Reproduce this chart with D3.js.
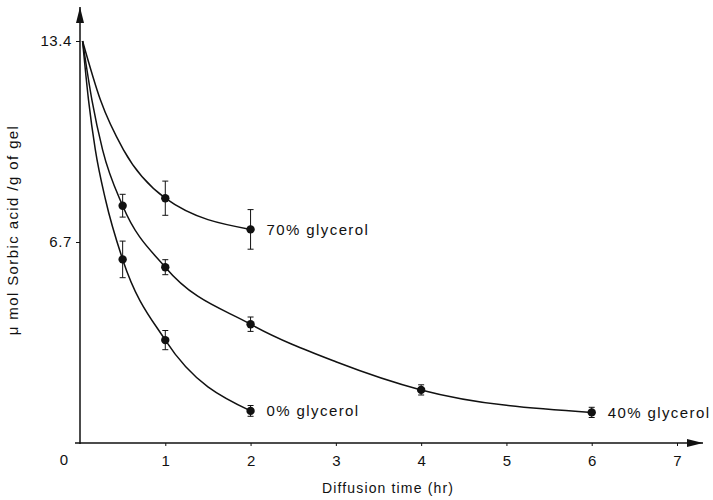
<!DOCTYPE html>
<html>
<head>
<meta charset="utf-8">
<script src="https://cdn.jsdelivr.net/npm/d3@7"></script>
<style>
  body { margin: 0; background: #fff; }
  text { font-family: "Liberation Sans", "DejaVu Sans", sans-serif; fill: #111; }
</style>
</head>
<body>
<div id="chart"></div>
<script>
// data (time in hr, µmol sorbic acid per g of gel)
var times0 = [0.5, 1, 2];
var values0 = [6.12, 3.43, 1.07];
var errors0 = [0.61, 0.32, 0.18];

var times40 = [0.5, 1, 2, 4, 6];
var values40 = [7.91, 5.86, 3.96, 1.77, 1.02];
var errors40 = [0.38, 0.25, 0.24, 0.17, 0.17];

var times70 = [1, 2];
var values70 = [8.16, 7.12];
var errors70 = [0.57, 0.66];

// points along the drawn fitted curves
var curve0 = [[0.03, 13.4], [0.10, 11.43], [0.18, 9.77], [0.3, 8.1], [0.5, 6.12], [1, 3.43], [2, 1.07]];
var curve40 = [[0.03, 13.4], [0.14, 11.43], [0.265, 9.77], [0.5, 7.91], [1, 5.86], [2, 3.96], [3, 2.71], [4, 1.77], [6, 1.02]];
var curve70 = [[0.03, 13.4], [0.24, 11.43], [0.51, 9.77], [1, 8.16], [2, 7.12]];

var seriesLabels = ["0% glycerol", "40% glycerol", "70% glycerol"];
var xTicks = [1, 2, 3, 4, 5, 6, 7];
var yTicks = [6.7, 13.4];

var svgWidth = 713;
var svgHeight = 500;
var margin = { top: 41, right: 36, bottom: 57, left: 80 };
var width = svgWidth - margin.left - margin.right;
var height = svgHeight - margin.top - margin.bottom;

var svg = d3.select("#chart").append("svg")
  .attr("width", svgWidth)
  .attr("height", svgHeight);

var chart = svg.append("g")
  .attr("transform", `translate(${margin.left}, ${margin.top})`);

var x = d3.scaleLinear().domain([0, 7]).range([0, width]);
var y = d3.scaleLinear().domain([0, 13.4]).range([height, 0]);

// axes
var xAxis = chart.append("g")
  .attr("transform", `translate(0, ${height})`)
  .call(d3.axisBottom(x).tickValues(xTicks).tickSize(3).tickFormat(d3.format("d")));
xAxis.select(".domain").remove();
xAxis.selectAll("line").attr("stroke", "#111");
xAxis.selectAll("text").attr("font-size", 15).attr("dy", "1.1em");

var yAxis = chart.append("g")
  .call(d3.axisLeft(y).tickValues(yTicks).tickSize(4).tickFormat(d3.format(".1f")));
yAxis.select(".domain").remove();
yAxis.selectAll("line").attr("stroke", "#111");
yAxis.selectAll("text").attr("font-size", 15).attr("x", -8).attr("letter-spacing", 0.6);

chart.append("text")
  .attr("x", -16).attr("y", height + 22)
  .attr("font-size", 15)
  .attr("text-anchor", "middle")
  .text("0");

// arrowheads
var defs = svg.append("defs");
defs.append("marker")
  .attr("id", "arrow")
  .attr("viewBox", "0 0 16 8")
  .attr("refX", 16).attr("refY", 4)
  .attr("markerWidth", 16).attr("markerHeight", 8)
  .attr("markerUnits", "userSpaceOnUse")
  .attr("orient", "auto")
  .append("path")
  .attr("d", "M0,0 L16,4 L0,8 Z")
  .attr("fill", "#111");

chart.append("line")
  .attr("x1", -5).attr("y1", height)
  .attr("x2", 623).attr("y2", height)
  .attr("stroke", "#111").attr("stroke-width", 1.5)
  .attr("marker-end", "url(#arrow)");

chart.append("line")
  .attr("x1", 0).attr("y1", height + 1)
  .attr("x2", 0).attr("y2", -34)
  .attr("stroke", "#111").attr("stroke-width", 1.5)
  .attr("marker-end", "url(#arrow)");

// fitted curves
var line = d3.line()
  .x(d => x(d[0]))
  .y(d => y(d[1]))
  .curve(d3.curveMonotoneX);

[curve0, curve40, curve70].forEach(function(c) {
  chart.append("path")
    .datum(c)
    .attr("d", line)
    .attr("fill", "none")
    .attr("stroke", "#111")
    .attr("stroke-width", 1.5);
});

// points with error bars
function drawPoints(times, values, errors) {
  var pts = times.map((t, i) => ({ t: t, v: values[i], e: errors[i] }));
  var g = chart.append("g");
  var bars = g.selectAll(".err").data(pts).enter().append("g");
  bars.append("line")
    .attr("x1", d => x(d.t)).attr("x2", d => x(d.t))
    .attr("y1", d => y(d.v - d.e)).attr("y2", d => y(d.v + d.e))
    .attr("stroke", "#111").attr("stroke-width", 1);
  bars.append("line")
    .attr("x1", d => x(d.t) - 3).attr("x2", d => x(d.t) + 3)
    .attr("y1", d => y(d.v + d.e)).attr("y2", d => y(d.v + d.e))
    .attr("stroke", "#111").attr("stroke-width", 1);
  bars.append("line")
    .attr("x1", d => x(d.t) - 3).attr("x2", d => x(d.t) + 3)
    .attr("y1", d => y(d.v - d.e)).attr("y2", d => y(d.v - d.e))
    .attr("stroke", "#111").attr("stroke-width", 1);
  g.selectAll("circle").data(pts).enter().append("circle")
    .attr("cx", d => x(d.t))
    .attr("cy", d => y(d.v))
    .attr("r", 4.2)
    .attr("fill", "#111");
}
drawPoints(times0, values0, errors0);
drawPoints(times40, values40, errors40);
drawPoints(times70, values70, errors70);

// series labels next to last points
var lastPoints = [
  [times0[times0.length - 1], values0[values0.length - 1]],
  [times40[times40.length - 1], values40[values40.length - 1]],
  [times70[times70.length - 1], values70[values70.length - 1]]
];
seriesLabels.forEach(function(label, i) {
  chart.append("text")
    .attr("x", x(lastPoints[i][0]) + 16)
    .attr("y", y(lastPoints[i][1]))
    .attr("dy", "0.36em")
    .attr("font-size", 15)
    .attr("letter-spacing", 1.4)
    .text(label);
});

// axis titles
svg.append("text")
  .attr("x", 388).attr("y", 493)
  .attr("text-anchor", "middle")
  .attr("font-size", 14)
  .attr("letter-spacing", 1.15)
  .text("Diffusion time (hr)");

svg.append("text")
  .attr("transform", "translate(18, 230) rotate(-90)")
  .attr("text-anchor", "middle")
  .attr("font-size", 15)
  .attr("letter-spacing", 1.4)
  .text("μ mol Sorbic acid /g of gel");
</script>
</body>
</html>
